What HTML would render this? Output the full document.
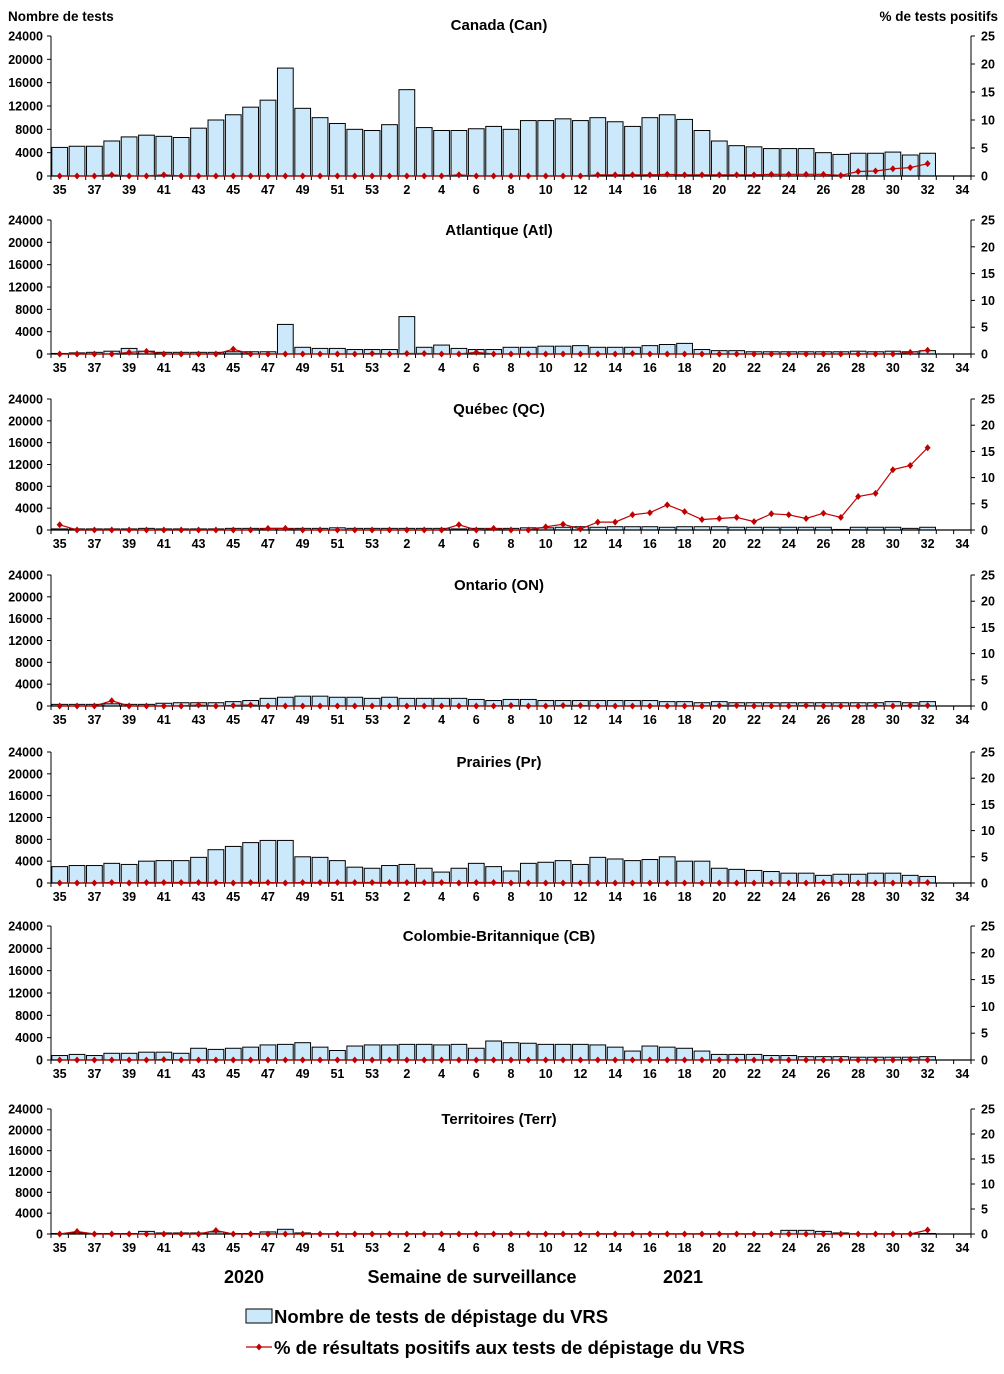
<!DOCTYPE html>
<html><head><meta charset="utf-8"><style>
body{margin:0;background:#fff;}
svg{display:block;font-family:"Liberation Sans",Arial,sans-serif;font-weight:bold;}
</style></head><body>
<svg id="chart" width="1004" height="1374" viewBox="0 0 1004 1374" xmlns="http://www.w3.org/2000/svg">
<text x="8" y="21" font-size="13.5">Nombre de tests</text>
<text x="998" y="21" font-size="13.5" text-anchor="end">% de tests positifs</text>
<text x="244" y="1283" font-size="18" text-anchor="middle">2020</text>
<text x="472" y="1283" font-size="18" text-anchor="middle">Semaine de surveillance</text>
<text x="683" y="1283" font-size="18" text-anchor="middle">2021</text>
<g>
<rect x="246" y="1309" width="26" height="14" fill="#cce9fb" stroke="#000" stroke-width="1"/>
<text x="274" y="1323" font-size="18.5">Nombre de tests de dépistage du VRS</text>
<line x1="246" y1="1347" x2="272" y2="1347" stroke="#c00000" stroke-width="1.3"/>
<path d="M259 1343.5 L262 1347 L259 1350.5 L256 1347Z" fill="#c00000"/>
<text x="274" y="1354" font-size="18.5">% de résultats positifs aux tests de dépistage du VRS</text>
</g>
</svg>
<script>
const weeks = [35,36,37,38,39,40,41,42,43,44,45,46,47,48,49,50,51,52,53,1,2,3,4,5,6,7,8,9,10,11,12,13,14,15,16,17,18,19,20,21,22,23,24,25,26,27,28,29,30,31,32,33,34];
const xTickLabels = ["35","37","39","41","43","45","47","49","51","53","2","4","6","8","10","12","14","16","18","20","22","24","26","28","30","32","34"];
const leftTicks = [0,4000,8000,12000,16000,20000,24000];
const rightTicks = [0,5,10,15,20,25];
const regionNames = ["Canada (Can)","Atlantique (Atl)","Québec (QC)","Ontario (ON)","Prairies (Pr)","Colombie-Britannique (CB)","Territoires (Terr)"];
const testsCan = [4900,5100,5100,6000,6700,7000,6800,6600,8200,9600,10500,11800,13000,18500,11600,10000,9000,8000,7800,8800,14800,8300,7800,7800,8100,8500,8000,9500,9500,9800,9500,10000,9300,8500,10000,10500,9700,7800,6000,5200,5000,4700,4700,4700,4000,3700,3900,3900,4100,3600,3900];
const pctCan = [0,0,0,0.2,0,0,0.2,0,0,0,0,0,0,0,0,0,0,0,0,0,0,0,0,0.2,0,0,0,0,0,0,0,0.2,0.2,0.2,0.2,0.3,0.2,0.2,0.2,0.2,0.2,0.3,0.3,0.3,0.3,0.1,0.8,0.9,1.3,1.5,2.2];
const testsAtl = [100,200,300,500,1000,500,300,300,300,300,400,400,400,5300,1200,1000,1000,800,800,800,6700,1200,1600,1000,800,800,1200,1200,1400,1400,1500,1200,1200,1200,1500,1700,1900,800,600,600,400,400,400,400,400,400,500,400,500,400,600];
const pctAtl = [0,0,0,0,0.3,0.5,0,0,0,0,0.9,0,0,0,0,0,0,0,0.1,0,0.1,0.1,0,0,0.3,0,0,0,0,0,0,0,0,0.1,0,0,0,0,0,0,0,0,0,0,0,0,0,0,0,0.3,0.7];
const testsQC = [200,200,200,200,200,300,200,200,200,200,300,300,300,300,300,300,400,300,300,300,300,300,300,200,300,300,300,400,400,500,600,500,600,600,600,500,600,600,600,500,500,500,500,500,500,100,500,500,500,300,500];
const pctQC = [1.0,0,0,0,0,0,0,0,0,0,0,0,0.3,0.3,0,0,0,0,0,0,0,0,0,1.0,0,0.3,0,0,0.6,1.1,0.2,1.5,1.5,2.9,3.3,4.8,3.5,2.0,2.2,2.4,1.6,3.1,2.9,2.2,3.2,2.4,6.4,7.0,11.5,12.3,15.7];
const testsON = [300,300,300,400,300,300,500,600,600,600,800,1000,1400,1600,1800,1800,1600,1600,1400,1600,1400,1400,1400,1400,1200,1000,1200,1200,1000,1000,1000,1000,1000,1000,1000,800,800,600,800,600,600,600,600,600,600,600,600,600,800,600,800];
const pctON = [0,0,0,1.0,0,0,0,0,0.2,0,0.1,0.2,0,0,0,0,0,0,0,0,0,0,0,0,0,0,0.1,0,0,0.1,0.1,0,0,0,0,0,0,0,0.1,0.1,0,0,0,0.1,0,0,0,0.1,0,0.1,0.1];
const testsPr = [3000,3200,3200,3600,3400,4000,4100,4100,4700,6100,6700,7400,7800,7800,4800,4700,4100,2900,2700,3200,3400,2700,2000,2700,3600,3000,2200,3600,3800,4100,3400,4700,4400,4100,4300,4800,4000,4000,2700,2500,2300,2100,1800,1800,1400,1600,1600,1800,1800,1400,1200];
const pctPr = [0,0,0,0.1,0,0.1,0.1,0.1,0.1,0.1,0,0.1,0.1,0,0.1,0.1,0.1,0.1,0.1,0.1,0.1,0.1,0.1,0,0.1,0.1,0,0,0,0,0,0,0,0,0,0,0,0,0,0,0,0,0,0,0.1,0,0,0,0,0,0.1];
const testsCB = [800,1000,800,1200,1200,1400,1400,1200,2100,1900,2100,2300,2700,2800,3100,2300,1700,2500,2700,2700,2800,2800,2700,2800,2100,3400,3100,3000,2800,2800,2800,2700,2300,1600,2500,2300,2100,1600,1000,1000,1000,800,800,600,600,600,500,500,500,500,600];
const pctCB = [0,0,0,0,0,0,0.1,0,0,0,0,0,0,0,0,0,0,0,0,0,0,0,0,0,0,0,0,0,0,0,0,0,0,0,0,0,0,0,0,0,0,0,0,0,0,0,0,0,0,0.1,0];
const testsTerr = [100,200,100,100,100,500,200,200,200,400,100,100,400,900,200,50,50,50,50,50,50,50,50,50,50,50,50,50,50,50,50,50,50,50,50,50,50,50,50,50,50,50,700,700,500,200,50,50,50,50,100];
const pctTerr = [0,0.5,0,0,0,0,0,0,0,0.7,0,0,0,0,0,0,0,0,0,0,0,0,0,0,0,0,0,0,0,0,0,0,0,0,0,0,0,0,0,0,0,0,0,0,0,0,0,0,0,0,0.8];
const allTests = [testsCan,testsAtl,testsQC,testsON,testsPr,testsCB,testsTerr];
const allPct = [pctCan,pctAtl,pctQC,pctON,pctPr,pctCB,pctTerr];
const panelSlugs = ["canada","atlantique","quebec","ontario","prairies","colombie-britannique","territoires"];

const NS = "http://www.w3.org/2000/svg";
const svg = document.getElementById('chart');
const plotL = 51, plotR = 971;
const panelTops = [36,220,399,575,752,926,1109];
const panelZeros = [176,354,530,706,883,1060,1234];
const slotW = (plotR - plotL) / weeks.length;
function xSlot(i){ return plotL + i*slotW; }
function xCenter(i){ return plotL + (i+0.5)*slotW; }
function mk(tag, attrs, parent){
  const e = document.createElementNS(NS, tag);
  for (const k in attrs) e.setAttribute(k, attrs[k]);
  parent.appendChild(e);
  return e;
}

regionNames.forEach((name, p) => {
  const top = panelTops[p], zero = panelZeros[p];
  const yL = v => zero - (v/24000)*(zero-top);
  const yR = v => zero - (v/25)*(zero-top);
  const g = mk('g', {}, svg);
  
  
  const t = mk('text', {x: 499, y: p === 0 ? 30 : top+15, 'font-size': 15, 'text-anchor': 'middle'}, g);
  t.textContent = name;
  
  
  allTests[p].forEach((v, i) => {
    const r = mk('rect', {x: xSlot(i)+0.8, y: yL(v), width: slotW-1.6, height: Math.max(0, zero-yL(v)), fill: '#cce9fb', stroke: '#000', 'stroke-width': 1}, g);
    
    
  });
  const axl = mk('line', {x1: plotL, y1: top, x2: plotL, y2: zero, stroke: '#000', 'stroke-width': 1}, g);
  
  
  const axr = mk('line', {x1: plotR, y1: top, x2: plotR, y2: zero, stroke: '#000', 'stroke-width': 1}, g);
  
  
  const axb = mk('line', {x1: plotL, y1: zero, x2: plotR, y2: zero, stroke: '#000', 'stroke-width': 1.3}, g);
  
  
  leftTicks.forEach(v => {
    mk('line', {x1: plotL-4, y1: yL(v), x2: plotL, y2: yL(v), stroke: '#000'}, g);
    const tx = mk('text', {x: plotL-8, y: yL(v)+4.5, 'font-size': 12.5, 'text-anchor': 'end'}, g);
    tx.textContent = v;
    
    
  });
  rightTicks.forEach(v => {
    mk('line', {x1: plotR, y1: yR(v), x2: plotR+4, y2: yR(v), stroke: '#000'}, g);
    const tx = mk('text', {x: plotR+10, y: yR(v)+4.5, 'font-size': 12.5}, g);
    tx.textContent = v;
    
    
  });
  for (let i = 0; i <= weeks.length; i++) {
    mk('line', {x1: xSlot(i), y1: zero, x2: xSlot(i), y2: zero+4, stroke: '#000'}, g);
  }
  xTickLabels.forEach((lab, k) => {
    const tx = mk('text', {x: xCenter(k*2), y: zero+18, 'font-size': 12.5, 'text-anchor': 'middle'}, g);
    tx.textContent = lab;
    
    
  });
  const pts = allPct[p].map((v, i) => xCenter(i).toFixed(1) + ',' + yR(v).toFixed(1)).join(' ');
  const pl = mk('polyline', {points: pts, fill: 'none', stroke: '#c00000', 'stroke-width': 1.2}, g);
  
  
  allPct[p].forEach((v, i) => {
    const cx = xCenter(i), cy = yR(v);
    const d = mk('path', {d: `M${cx} ${cy-3.5} L${cx+3} ${cy} L${cx} ${cy+3.5} L${cx-3} ${cy}Z`, fill: '#c00000'}, g);
    
    
  });
});
</script>
</body></html>
